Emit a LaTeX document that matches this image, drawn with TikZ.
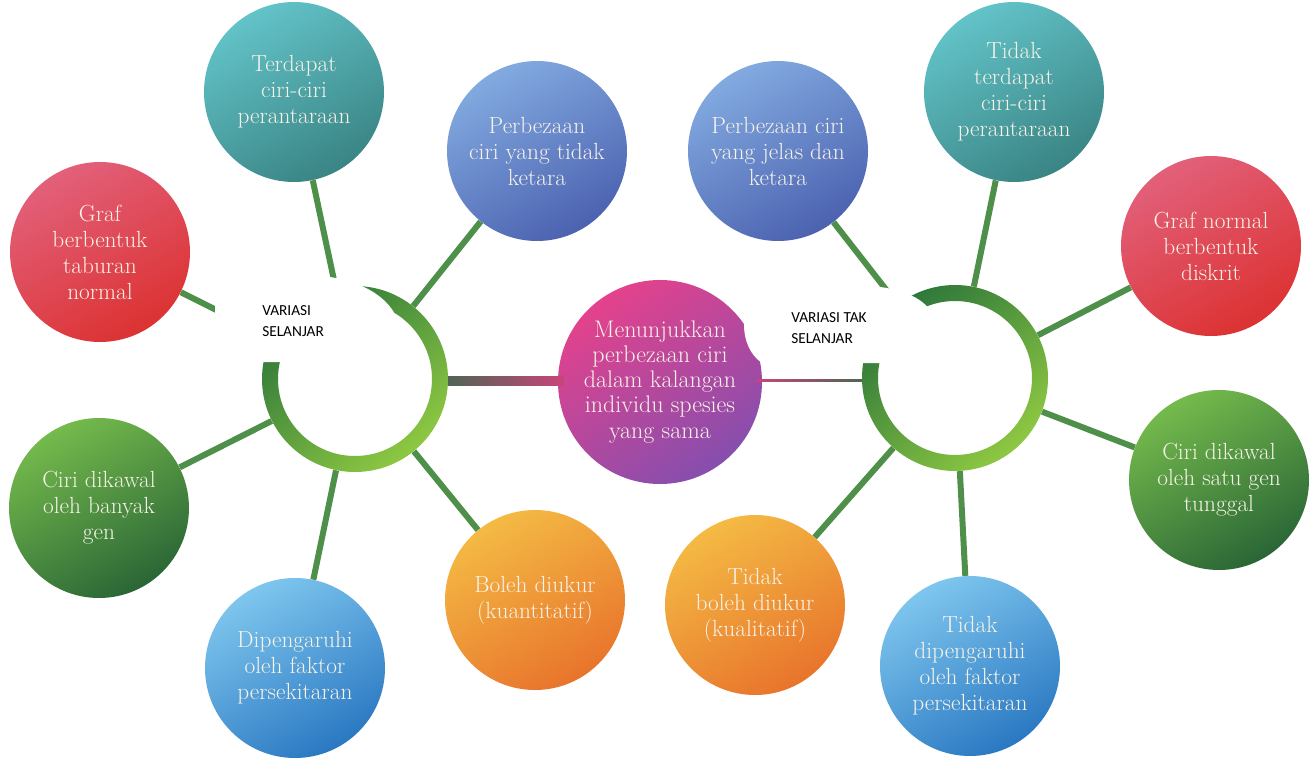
\documentclass[tikz,border=0pt]{standalone}
\usepackage{fontspec}
\newfontfamily\calib{Carlito}
\usetikzlibrary{calc}
\definecolor{txt}{HTML}{F8F3E8}
\definecolor{tealL}{HTML}{62C3C8}
\definecolor{tealD}{HTML}{3A8484}
\definecolor{violL}{HTML}{82AAE0}
\definecolor{violD}{HTML}{4C62B0}
\definecolor{redL}{HTML}{E2607A}
\definecolor{redD}{HTML}{DC3232}
\definecolor{grnL}{HTML}{74BA4C}
\definecolor{grnD}{HTML}{2A6636}
\definecolor{bluL}{HTML}{7EC6EE}
\definecolor{bluD}{HTML}{2A78C2}
\definecolor{orgL}{HTML}{F4BA44}
\definecolor{orgD}{HTML}{E8742C}
\definecolor{magL}{HTML}{E4428C}
\definecolor{magD}{HTML}{864EAE}
\definecolor{ringD}{HTML}{2C763A}
\definecolor{ringL}{HTML}{8EC842}
\definecolor{linkc}{HTML}{4E9049}
\definecolor{pinkc}{HTML}{C8467A}
\definecolor{dgrn}{HTML}{4A6652}
\begin{document}
\begin{tikzpicture}[x=0.75pt,y=-0.75pt,
  sat/.style={circle, minimum size=135pt, inner sep=0pt, align=center,
    text=txt, font=\fontsize{17.5}{19.5}\selectfont},
  tealS/.style={top color=tealL, bottom color=tealD, shading angle=30},
  violS/.style={top color=violL, bottom color=violD, shading angle=30},
  redS/.style={top color=redL, bottom color=redD, shading angle=30},
  grnS/.style={top color=grnL, bottom color=grnD, shading angle=30},
  bluS/.style={top color=bluL, bottom color=bluD, shading angle=30},
  orgS/.style={top color=orgL, bottom color=orgD, shading angle=30},
  hub/.style={circle, minimum size=139.5pt, inner sep=0pt, fill=white},
  link/.style={draw=linkc, line width=4.5pt},
  ring/.style={even odd rule, top color=ringD, bottom color=ringL, shading angle=40},
  blob/.style={fill=white},
  hublabel/.style={anchor=west, align=left, inner sep=0pt,
    font=\calib\fontsize{11.5}{16}\selectfont, text=black}
]
\useasboundingbox (0,0) rectangle (1311,760);

% hubs
\node[hub] (hubL) at (355,379) {};
\node[hub] (hubR) at (955,378) {};

% satellites left
\node[sat, tealS] (s1) at (294,92) {Terdapat\\ciri-ciri\\perantaraan};
\node[sat, violS] (s2) at (537,151) {Perbezaan\\ciri yang tidak\\ketara};
\node[sat, redS] (s3) at (100,252) {Graf\\berbentuk\\taburan\\normal};
\node[sat, grnS] (s4) at (99,508) {Ciri dikawal\\oleh banyak\\gen};
\node[sat, bluS] (s5) at (295,668) {Dipengaruhi\\oleh faktor\\persekitaran};
\node[sat, orgS] (s6) at (535,600) {Boleh diukur\\(kuantitatif)};

% satellites right
\node[sat, violS] (r1) at (778,151) {Perbezaan ciri\\yang jelas dan\\ketara};
\node[sat, tealS] (r2) at (1014,92) {Tidak\\terdapat\\ciri-ciri\\perantaraan};
\node[sat, redS] (r3) at (1211,246) {Graf normal\\berbentuk\\diskrit};
\node[sat, grnS] (r4) at (1219,480) {Ciri dikawal\\oleh satu gen\\tunggal};
\node[sat, bluS] (r5) at (970,666) {Tidak\\dipengaruhi\\oleh faktor\\persekitaran};
\node[sat, orgS] (r6) at (755,605) {Tidak\\boleh diukur\\(kualitatif)};

% centre
\node[circle, minimum size=153pt, inner sep=0pt, align=center, text=txt,
  font=\fontsize{18}{18.8}\selectfont, top color=magL, bottom color=magD,
  shading angle=35] (mid) at (660,382)
  {Menunjukkan\\perbezaan ciri\\dalam kalangan\\individu spesies\\yang sama};

% connectors to satellites
\foreach \s in {s1,s2,s3,s4,s5,s6} \draw[link] (\s) -- (hubL);
\foreach \s in {r1,r2,r3,r4,r5,r6} \draw[link] (\s) -- (hubR);

% connectors to centre
\shade[left color=dgrn, right color=pinkc] ($(hubL.east)+(-6,-3)$) rectangle ($(mid.west)+(6,3)$);
\shade[left color=pinkc, right color=dgrn] ($(mid.east)+(-6,-3)$) rectangle ($(hubR.west)+(6,3)$);

% rings
\shade[ring] (hubL.center) circle[radius=69.75pt] (hubL.center) circle[radius=57.75pt];
\shade[ring] (hubR.center) circle[radius=69.75pt] (hubR.center) circle[radius=57.75pt];

% white label patches
\path[blob] (215,277) -- (330,277) .. controls (362,282) and (396,298) .. (401,332)
  -- (401,362) -- (263,362) -- (215,362) -- cycle;
\path[blob] (760,287) -- (880,287) .. controls (905,290) and (930,300) .. (936,322)
  -- (936,363) -- (762,363) .. controls (750,355) and (744,340) .. (744,325)
  .. controls (744,305) and (750,291) .. (760,287) -- cycle;

\node[hublabel] (lblL) at (262,321) {VARIASI\\SELANJAR};
\node[hublabel] (lblR) at (791,328) {VARIASI TAK\\SELANJAR};
\end{tikzpicture}
\end{document}
